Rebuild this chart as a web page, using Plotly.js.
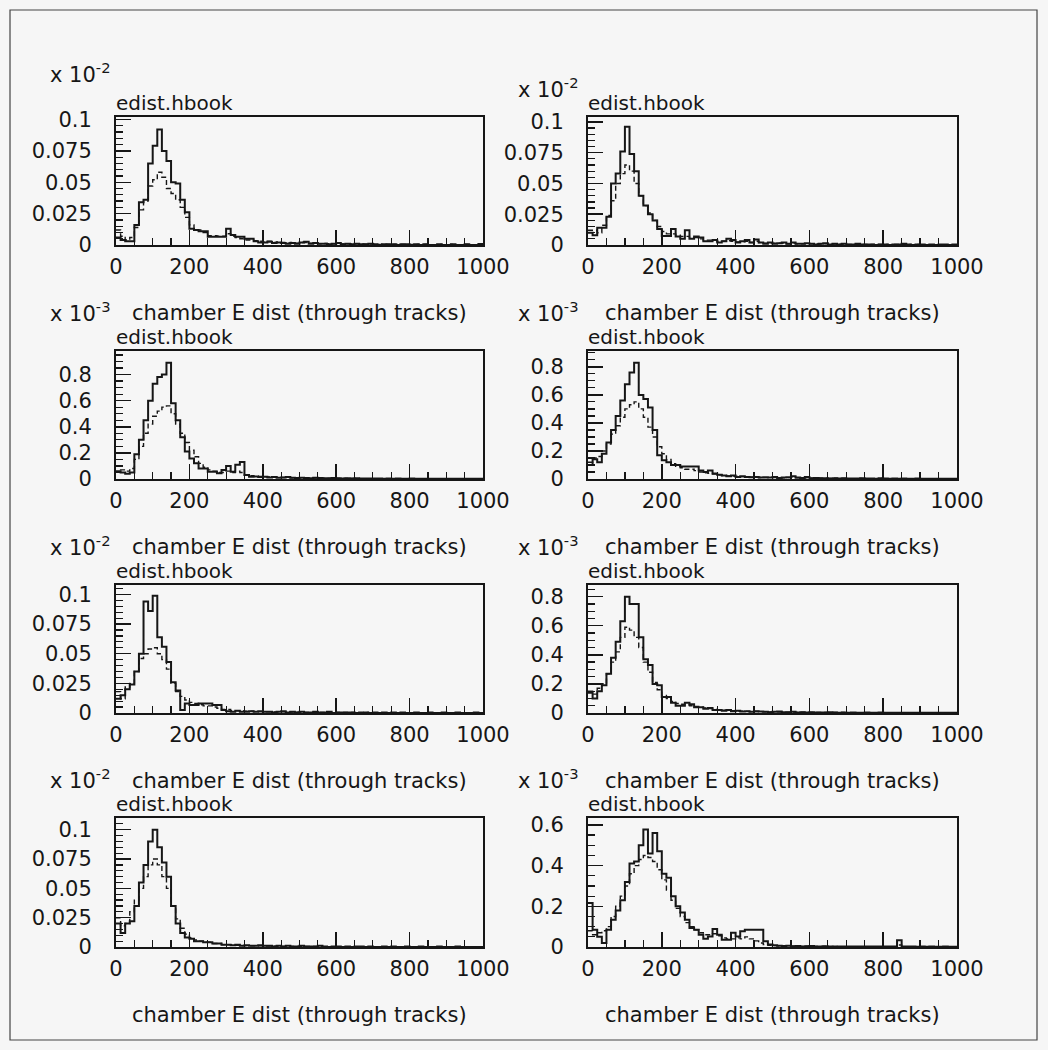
<!DOCTYPE html>
<html>
<head>
<meta charset="utf-8">
<script src="https://cdn.plot.ly/plotly-3.0.1.min.js"></script>
<style>
  html, body { margin: 0; padding: 0; background: #f6f6f6; }
  #chart { width: 1048px; height: 1050px; }
</style>
</head>
<body>
<div id="chart"></div>
<script>
// ---------------- data (80 bins of width 12.5 over 0..1000) ----------------
const BIN_WIDTH = 12.5;
const X_RANGE = [0, 1000];

const xTickVals = [0, 200, 400, 600, 800, 1000];
const xTickText = ['0', '200', '400', '600', '800', '1000'];

const yTicksE2 = [0, 0.025, 0.05, 0.075, 0.1];
const yTextE2 = ['0', '0.025', '0.05', '0.075', '0.1'];
const yTicksE3 = [0, 0.2, 0.4, 0.6, 0.8];
const yTextE3 = ['0', '0.2', '0.4', '0.6', '0.8'];
const yTicksE3b = [0, 0.2, 0.4, 0.6];
const yTextE3b = ['0', '0.2', '0.4', '0.6'];

const panelTitle = 'chamber E dist (through tracks)';
const fileLabel = 'edist.hbook';
const multiplierE2 = 'x 10<sup>-2</sup>';
const multiplierE3 = 'x 10<sup>-3</sup>';

// panel 1 (row 1, left)
const p1Solid = [0.006,0.004,0.003,0.003,0.016,0.034,0.036,0.065,0.079,0.092,
  0.075,0.067,0.050,0.049,0.036,0.026,0.013,0.012,0.011,0.011,
  0.0066,0.0066,0.0066,0.0066,0.013,0.008,0.0065,0.0065,0.005,0.005,
  0.003,0.002,0.002,0.0025,0.0015,0.002,0.0015,0.001,0.0015,0.001,
  0.002,0.0025,0.001,0.0015,0.001,0.001,0.0005,0.001,0.0015,0.0005,
  0.001,0.0005,0.001,0.0005,0.0005,0.001,0.0005,0,0.0005,0.0005,
  0.0005,0,0.0005,0.0005,0,0.0005,0,0.0005,0,0,
  0.0005,0,0,0.0005,0,0,0.0005,0,0,0.0008];
const p1Dash = [0.012,0.007,0.004,0.006,0.014,0.028,0.035,0.047,0.052,0.058,
  0.054,0.045,0.041,0.036,0.030,0.022,0.016,0.012,0.012,0.010,
  0.0075,0.0075,0.007,0.007,0.009,0.007,0.006,0.005,0.004,0.004,
  0.0035,0.003,0.0025,0.003,0.002,0.0025,0.002,0.0015,0.002,0.0015,
  0.002,0.002,0.0015,0.0015,0.001,0.0012,0.001,0.001,0.0012,0.0008,
  0.001,0.0008,0.001,0.0008,0.0006,0.0008,0.0006,0.0005,0.0006,0.0005,
  0.0005,0.0004,0.0005,0.0004,0.0004,0.0005,0.0003,0.0004,0.0003,0.0003,
  0.0004,0.0003,0.0003,0.0004,0.0003,0.0003,0.0004,0.0003,0.0003,0.0006];

// panel 2 (row 1, right)
const p2Solid = [0.010,0.008,0.014,0.014,0.023,0.050,0.058,0.076,0.096,0.074,
  0.060,0.040,0.032,0.025,0.020,0.013,0.0074,0.0074,0.013,0.007,
  0.005,0.012,0.005,0.007,0.006,0.003,0.003,0.004,0.002,0.003,
  0.005,0.004,0.002,0.003,0.004,0.002,0.0045,0.002,0.001,0.002,
  0.001,0.0015,0.002,0.001,0.002,0.001,0.001,0.0015,0.001,0.0005,
  0.001,0.0015,0.0005,0.001,0.0005,0.001,0.0005,0.0005,0.001,0.0005,
  0.0005,0.0005,0,0.0005,0.0005,0,0.0005,0.0005,0.001,0.0005,
  0,0.0005,0.0005,0,0.0005,0,0.0005,0.0005,0,0.0005];
const p2Dash = [0.012,0.012,0.010,0.016,0.024,0.036,0.050,0.058,0.065,0.060,
  0.050,0.040,0.032,0.026,0.020,0.015,0.011,0.009,0.009,0.008,
  0.007,0.007,0.006,0.006,0.005,0.004,0.004,0.004,0.003,0.003,
  0.0035,0.003,0.0025,0.0025,0.003,0.002,0.003,0.002,0.0015,0.0015,
  0.0015,0.0015,0.0015,0.001,0.0015,0.001,0.001,0.001,0.001,0.0008,
  0.0008,0.001,0.0006,0.0008,0.0006,0.0008,0.0005,0.0005,0.0006,0.0005,
  0.0005,0.0004,0.0003,0.0004,0.0004,0.0003,0.0004,0.0004,0.0006,0.0004,
  0.0003,0.0004,0.0003,0.0003,0.0003,0.0003,0.0003,0.0003,0.0003,0.0003];

// panel 3 (row 2, left)
const p3Solid = [0.06,0.05,0.04,0.05,0.19,0.30,0.45,0.60,0.73,0.78,
  0.80,0.89,0.58,0.45,0.32,0.21,0.157,0.12,0.081,0.081,
  0.056,0.056,0.044,0.068,0.10,0.056,0.11,0.13,0.03,0.018,
  0.02,0.015,0.018,0.012,0.015,0.01,0.012,0.015,0.01,0.008,
  0.01,0.008,0.006,0.01,0.008,0.006,0.005,0.008,0.005,0.004,
  0.005,0.004,0.006,0.003,0.004,0.003,0.004,0.003,0.002,0.003,
  0.002,0.003,0.002,0.002,0.003,0.002,0.002,0.001,0.002,0.002,
  0.001,0.002,0.001,0.001,0.002,0.001,0.001,0.002,0.001,0.001];
const p3Dash = [0.10,0.07,0.06,0.08,0.15,0.25,0.35,0.42,0.48,0.52,
  0.55,0.56,0.50,0.42,0.35,0.28,0.22,0.17,0.12,0.09,
  0.07,0.06,0.05,0.05,0.06,0.05,0.06,0.05,0.03,0.025,
  0.022,0.02,0.018,0.016,0.015,0.013,0.012,0.012,0.01,0.009,
  0.009,0.008,0.007,0.008,0.007,0.006,0.005,0.006,0.005,0.004,
  0.004,0.004,0.004,0.003,0.003,0.003,0.003,0.003,0.002,0.002,
  0.002,0.002,0.002,0.002,0.002,0.002,0.002,0.001,0.001,0.001,
  0.001,0.001,0.001,0.001,0.001,0.001,0.001,0.001,0.001,0.001];

// panel 4 (row 2, right)
const p4Solid = [0.10,0.14,0.12,0.18,0.26,0.35,0.45,0.56,0.675,0.76,
  0.83,0.60,0.57,0.51,0.35,0.17,0.134,0.12,0.10,0.10,
  0.09,0.09,0.09,0.09,0.06,0.05,0.06,0.04,0.03,0.025,
  0.02,0.025,0.015,0.02,0.015,0.012,0.015,0.01,0.012,0.01,
  0.015,0.008,0.01,0.012,0.02,0.01,0.008,0.015,0.006,0.008,
  0.005,0.006,0.004,0.006,0.004,0.005,0.003,0.004,0.003,0.005,
  0.003,0.004,0.002,0.006,0.003,0.002,0.003,0.002,0.003,0.002,
  0.002,0.003,0.002,0.002,0.001,0.002,0.001,0.002,0.001,0.001];
const p4Dash = [0.12,0.15,0.16,0.20,0.25,0.32,0.38,0.44,0.50,0.53,
  0.55,0.50,0.44,0.37,0.30,0.23,0.18,0.14,0.11,0.09,
  0.08,0.07,0.07,0.06,0.05,0.045,0.04,0.035,0.03,0.025,
  0.022,0.02,0.018,0.017,0.015,0.013,0.012,0.011,0.01,0.01,
  0.01,0.009,0.009,0.01,0.012,0.009,0.008,0.009,0.006,0.006,
  0.005,0.005,0.004,0.005,0.004,0.004,0.003,0.003,0.003,0.004,
  0.003,0.003,0.002,0.004,0.003,0.002,0.002,0.002,0.002,0.002,
  0.002,0.002,0.002,0.001,0.001,0.001,0.001,0.001,0.001,0.001];

// panel 5 (row 3, left)
const p5Solid = [0.012,0.015,0.020,0.024,0.035,0.050,0.094,0.086,0.099,0.064,
  0.056,0.043,0.026,0.019,0.0025,0.008,0.0067,0.0067,0.008,0.008,
  0.008,0.0067,0.0067,0.0025,0.0015,0.001,0.002,0.001,0.001,0.0015,
  0.001,0.0015,0.001,0.001,0.0005,0.001,0.0015,0.0005,0.001,0.0005,
  0.001,0.0005,0.0005,0.001,0.0005,0.0005,0.001,0,0.0005,0.0005,
  0.0005,0.0005,0,0.0005,0.0005,0,0.0005,0,0.0005,0,
  0.0005,0,0.0005,0,0,0.0005,0,0,0.0005,0,
  0,0.0005,0,0,0.0005,0,0,0,0.0005,0];
const p5Dash = [0.018,0.012,0.022,0.025,0.035,0.046,0.050,0.054,0.055,0.050,
  0.045,0.037,0.025,0.018,0.014,0.011,0.009,0.008,0.007,0.006,
  0.006,0.005,0.004,0.003,0.003,0.002,0.002,0.002,0.0015,0.0015,
  0.0012,0.0012,0.001,0.001,0.0008,0.0008,0.001,0.0006,0.0008,0.0006,
  0.0007,0.0005,0.0005,0.0006,0.0005,0.0004,0.0006,0.0003,0.0004,0.0004,
  0.0004,0.0004,0.0003,0.0003,0.0004,0.0002,0.0003,0.0002,0.0003,0.0002,
  0.0003,0.0002,0.0003,0.0002,0.0002,0.0003,0.0002,0.0002,0.0003,0.0002,
  0.0002,0.0002,0.0002,0.0002,0.0002,0.0002,0.0002,0.0002,0.0002,0.0002];

// panel 6 (row 3, right)
const p6Solid = [0.14,0.10,0.15,0.19,0.27,0.38,0.49,0.63,0.80,0.75,
  0.75,0.52,0.37,0.33,0.20,0.19,0.11,0.11,0.07,0.05,
  0.05,0.07,0.06,0.04,0.04,0.03,0.035,0.02,0.02,0.015,
  0.02,0.012,0.015,0.01,0.012,0.008,0.012,0.01,0.008,0.006,
  0.008,0.01,0.006,0.005,0.008,0.004,0.006,0.004,0.005,0.003,
  0.004,0.003,0.005,0.003,0.002,0.004,0.002,0.003,0.002,0.002,
  0.003,0.002,0.002,0.004,0.002,0.001,0.002,0.002,0.001,0.002,
  0.001,0.002,0.001,0.001,0.002,0.001,0.001,0.001,0.001,0.001];
const p6Dash = [0.15,0.13,0.17,0.20,0.27,0.35,0.42,0.52,0.59,0.57,
  0.52,0.45,0.35,0.28,0.21,0.16,0.12,0.10,0.08,0.065,
  0.06,0.055,0.05,0.045,0.04,0.035,0.03,0.025,0.02,0.02,
  0.018,0.015,0.014,0.012,0.011,0.01,0.01,0.009,0.008,0.007,
  0.007,0.007,0.006,0.005,0.006,0.004,0.005,0.004,0.004,0.003,
  0.003,0.003,0.003,0.003,0.002,0.003,0.002,0.002,0.002,0.002,
  0.002,0.002,0.002,0.002,0.002,0.001,0.001,0.001,0.001,0.001,
  0.001,0.001,0.001,0.001,0.001,0.001,0.001,0.001,0.001,0.001];

// panel 7 (row 4, left)
const p7Solid = [0.02,0.012,0.02,0.022,0.035,0.055,0.07,0.09,0.10,0.085,
  0.072,0.06,0.035,0.02,0.012,0.008,0.007,0.005,0.005,0.004,
  0.004,0.003,0.003,0.002,0.002,0.0015,0.002,0.001,0.0015,0.001,
  0.001,0.0015,0.001,0.001,0.0005,0.001,0.0005,0.001,0.0005,0.0005,
  0.001,0.0005,0.0005,0.0005,0.001,0.0005,0,0.0005,0.0005,0,
  0.0005,0,0.0005,0.0005,0,0.0005,0,0,0.0005,0,
  0.0005,0,0,0.0005,0,0,0.0005,0,0,0,
  0.0005,0,0,0,0.0005,0,0,0,0,0];
const p7Dash = [0.025,0.018,0.02,0.03,0.04,0.05,0.06,0.07,0.075,0.07,
  0.06,0.05,0.035,0.024,0.016,0.011,0.008,0.006,0.005,0.004,
  0.004,0.003,0.003,0.002,0.002,0.0018,0.0015,0.0012,0.0012,0.001,
  0.001,0.001,0.0008,0.0008,0.0006,0.0007,0.0005,0.0006,0.0005,0.0005,
  0.0005,0.0004,0.0004,0.0004,0.0005,0.0003,0.0003,0.0003,0.0003,0.0002,
  0.0003,0.0002,0.0003,0.0003,0.0002,0.0002,0.0002,0.0002,0.0002,0.0002,
  0.0002,0.0002,0.0002,0.0002,0.0002,0.0002,0.0002,0.0001,0.0001,0.0001,
  0.0002,0.0001,0.0001,0.0001,0.0001,0.0001,0.0001,0.0001,0.0001,0.0001];

// panel 8 (row 4, right)
const p8Solid = [0.216,0.085,0.05,0.02,0.085,0.134,0.18,0.23,0.32,0.41,
  0.42,0.50,0.577,0.46,0.56,0.47,0.36,0.34,0.25,0.20,
  0.17,0.134,0.093,0.085,0.06,0.04,0.052,0.088,0.06,0.036,
  0.036,0.07,0.052,0.077,0.085,0.085,0.085,0.085,0.028,0.012,
  0.008,0.006,0.005,0.006,0.004,0.005,0.003,0.004,0.005,0.003,
  0.003,0.004,0.002,0.003,0.002,0.003,0.002,0.002,0.003,0.002,
  0.002,0.003,0.002,0.002,0.002,0.002,0.003,0.033,0.003,0.002,
  0.002,0.001,0.002,0.001,0.002,0.001,0.001,0.002,0.001,0.001];
const p8Dash = [0.08,0.06,0.07,0.08,0.10,0.15,0.20,0.25,0.30,0.36,
  0.40,0.43,0.45,0.44,0.42,0.38,0.33,0.28,0.23,0.19,
  0.15,0.12,0.10,0.085,0.07,0.06,0.06,0.065,0.055,0.045,
  0.04,0.04,0.045,0.04,0.05,0.04,0.03,0.02,0.012,0.008,
  0.007,0.006,0.005,0.005,0.004,0.004,0.003,0.004,0.004,0.003,
  0.003,0.003,0.002,0.003,0.002,0.002,0.002,0.002,0.002,0.002,
  0.002,0.002,0.002,0.002,0.002,0.002,0.002,0.01,0.002,0.002,
  0.002,0.001,0.001,0.001,0.001,0.001,0.001,0.001,0.001,0.001];

const solidSeries = [p1Solid, p2Solid, p3Solid, p4Solid, p5Solid, p6Solid, p7Solid, p8Solid];
const dashSeries  = [p1Dash, p2Dash, p3Dash, p4Dash, p5Dash, p6Dash, p7Dash, p8Dash];

// per-panel y axis settings
const yMax = [0.102, 0.104, 0.98, 0.913, 0.108, 0.88, 0.11, 0.634];
const yTickSets = [
  [yTicksE2, yTextE2], [yTicksE2, yTextE2],
  [yTicksE3, yTextE3], [yTicksE3, yTextE3],
  [yTicksE2, yTextE2], [yTicksE3, yTextE3],
  [yTicksE2, yTextE2], [yTicksE3b, yTextE3b]
];
const yMinorStep = [0.005, 0.005, 0.05, 0.05, 0.005, 0.05, 0.005, 0.05];
const multipliers = [multiplierE2, multiplierE2, multiplierE3, multiplierE3,
                     multiplierE2, multiplierE3, multiplierE2, multiplierE3];

// ---------------- layout geometry (pixels) ----------------
const W = 1048, H = 1050;
const colX = [[116, 483], [588, 957]];
const rowY = [[117, 245], [351, 479], [585, 713], [818, 947]];
const multPos = [[48, 73], [516, 88], [48, 312], [516, 312], [48, 546], [516, 546], [48, 779], [516, 779]];

const FONT = 'DejaVu Sans, Arial, sans-serif';
const INK = '#161616';

const data = [];
const layout = {
  width: W, height: H,
  margin: {l: 0, r: 0, t: 0, b: 0},
  paper_bgcolor: '#f6f6f6',
  plot_bgcolor: '#f6f6f6',
  showlegend: false,
  font: {family: FONT, size: 21, color: INK},
  annotations: [],
  shapes: [{
    type: 'rect', xref: 'paper', yref: 'paper',
    x0: 10 / W, x1: 1037 / W, y0: 1 - 1040 / H, y1: 1 - 10 / H,
    line: {color: '#444', width: 1.2}
  }]
};

for (let i = 0; i < 8; i++) {
  const row = Math.floor(i / 2), col = i % 2;
  const xs = i === 0 ? '' : String(i + 1);
  const xa = 'xaxis' + xs, ya = 'yaxis' + xs;
  const xr = 'x' + xs, yr = 'y' + xs;
  const [xl, xrgt] = colX[col];
  const [yt, yb] = rowY[row];

  const solid = solidSeries[i];
  const dash = dashSeries[i];
  data.push({
    type: 'scatter', mode: 'lines', xaxis: xr, yaxis: yr,
    x0: X_RANGE[0], dx: BIN_WIDTH,
    y: solid.concat([solid[solid.length - 1]]),
    line: {shape: 'hv', color: INK, width: 2},
    hoverinfo: 'skip'
  });
  data.push({
    type: 'scatter', mode: 'lines', xaxis: xr, yaxis: yr,
    x0: X_RANGE[0], dx: BIN_WIDTH,
    y: dash.concat([dash[dash.length - 1]]),
    line: {shape: 'hv', color: INK, width: 1.4, dash: '5px,3px'},
    hoverinfo: 'skip'
  });

  layout[xa] = {
    domain: [xl / W, xrgt / W],
    anchor: yr,
    range: X_RANGE,
    showgrid: false, zeroline: false,
    showline: true, mirror: true, linecolor: INK, linewidth: 2,
    ticks: 'inside', ticklen: 15, tickwidth: 1.5, tickcolor: INK,
    tickmode: 'array', tickvals: xTickVals, ticktext: xTickText,
    minor: {ticks: 'inside', tickmode: 'linear', tick0: 0, dtick: 50, ticklen: 7, tickwidth: 1.2, tickcolor: INK, showgrid: false},
    tickfont: {family: FONT, size: 21, color: INK},
    ticklabelstandoff: 2
  };
  layout[ya] = {
    domain: [1 - yb / H, 1 - yt / H],
    anchor: xr,
    range: [0, yMax[i]],
    showgrid: false, zeroline: false,
    showline: true, mirror: true, linecolor: INK, linewidth: 2,
    ticks: 'inside', ticklen: 15, tickwidth: 1.5, tickcolor: INK,
    tickmode: 'array', tickvals: yTickSets[i][0], ticktext: yTickSets[i][1],
    minor: {ticks: 'inside', tickmode: 'linear', tick0: 0, dtick: yMinorStep[i], ticklen: 7, tickwidth: 1.2, tickcolor: INK, showgrid: false},
    tickfont: {family: FONT, size: 21, color: INK},
    ticklabelstandoff: 18
  };

  // "edist.hbook" label above each frame
  layout.annotations.push({
    xref: xr + ' domain', yref: yr + ' domain', x: 0, y: 1,
    xanchor: 'left', yanchor: 'bottom', yshift: 0, xshift: -2,
    text: fileLabel, showarrow: false,
    font: {family: FONT, size: 20, color: INK}
  });
  // x-axis caption under each frame
  layout.annotations.push({
    xref: xr + ' domain', yref: yr + ' domain', x: 0.5, y: 0,
    xanchor: 'center', yanchor: 'middle', yshift: -68,
    text: panelTitle, showarrow: false,
    font: {family: FONT, size: 21, color: INK}
  });
  // scale multiplier
  layout.annotations.push({
    xref: 'paper', yref: 'paper', x: multPos[i][0] / W, y: 1 - multPos[i][1] / H,
    xanchor: 'left', yanchor: 'middle',
    text: multipliers[i], showarrow: false,
    font: {family: FONT, size: 21, color: INK}
  });
}

Plotly.newPlot('chart', data, layout, {staticPlot: true, displayModeBar: false});
</script>
</body>
</html>
